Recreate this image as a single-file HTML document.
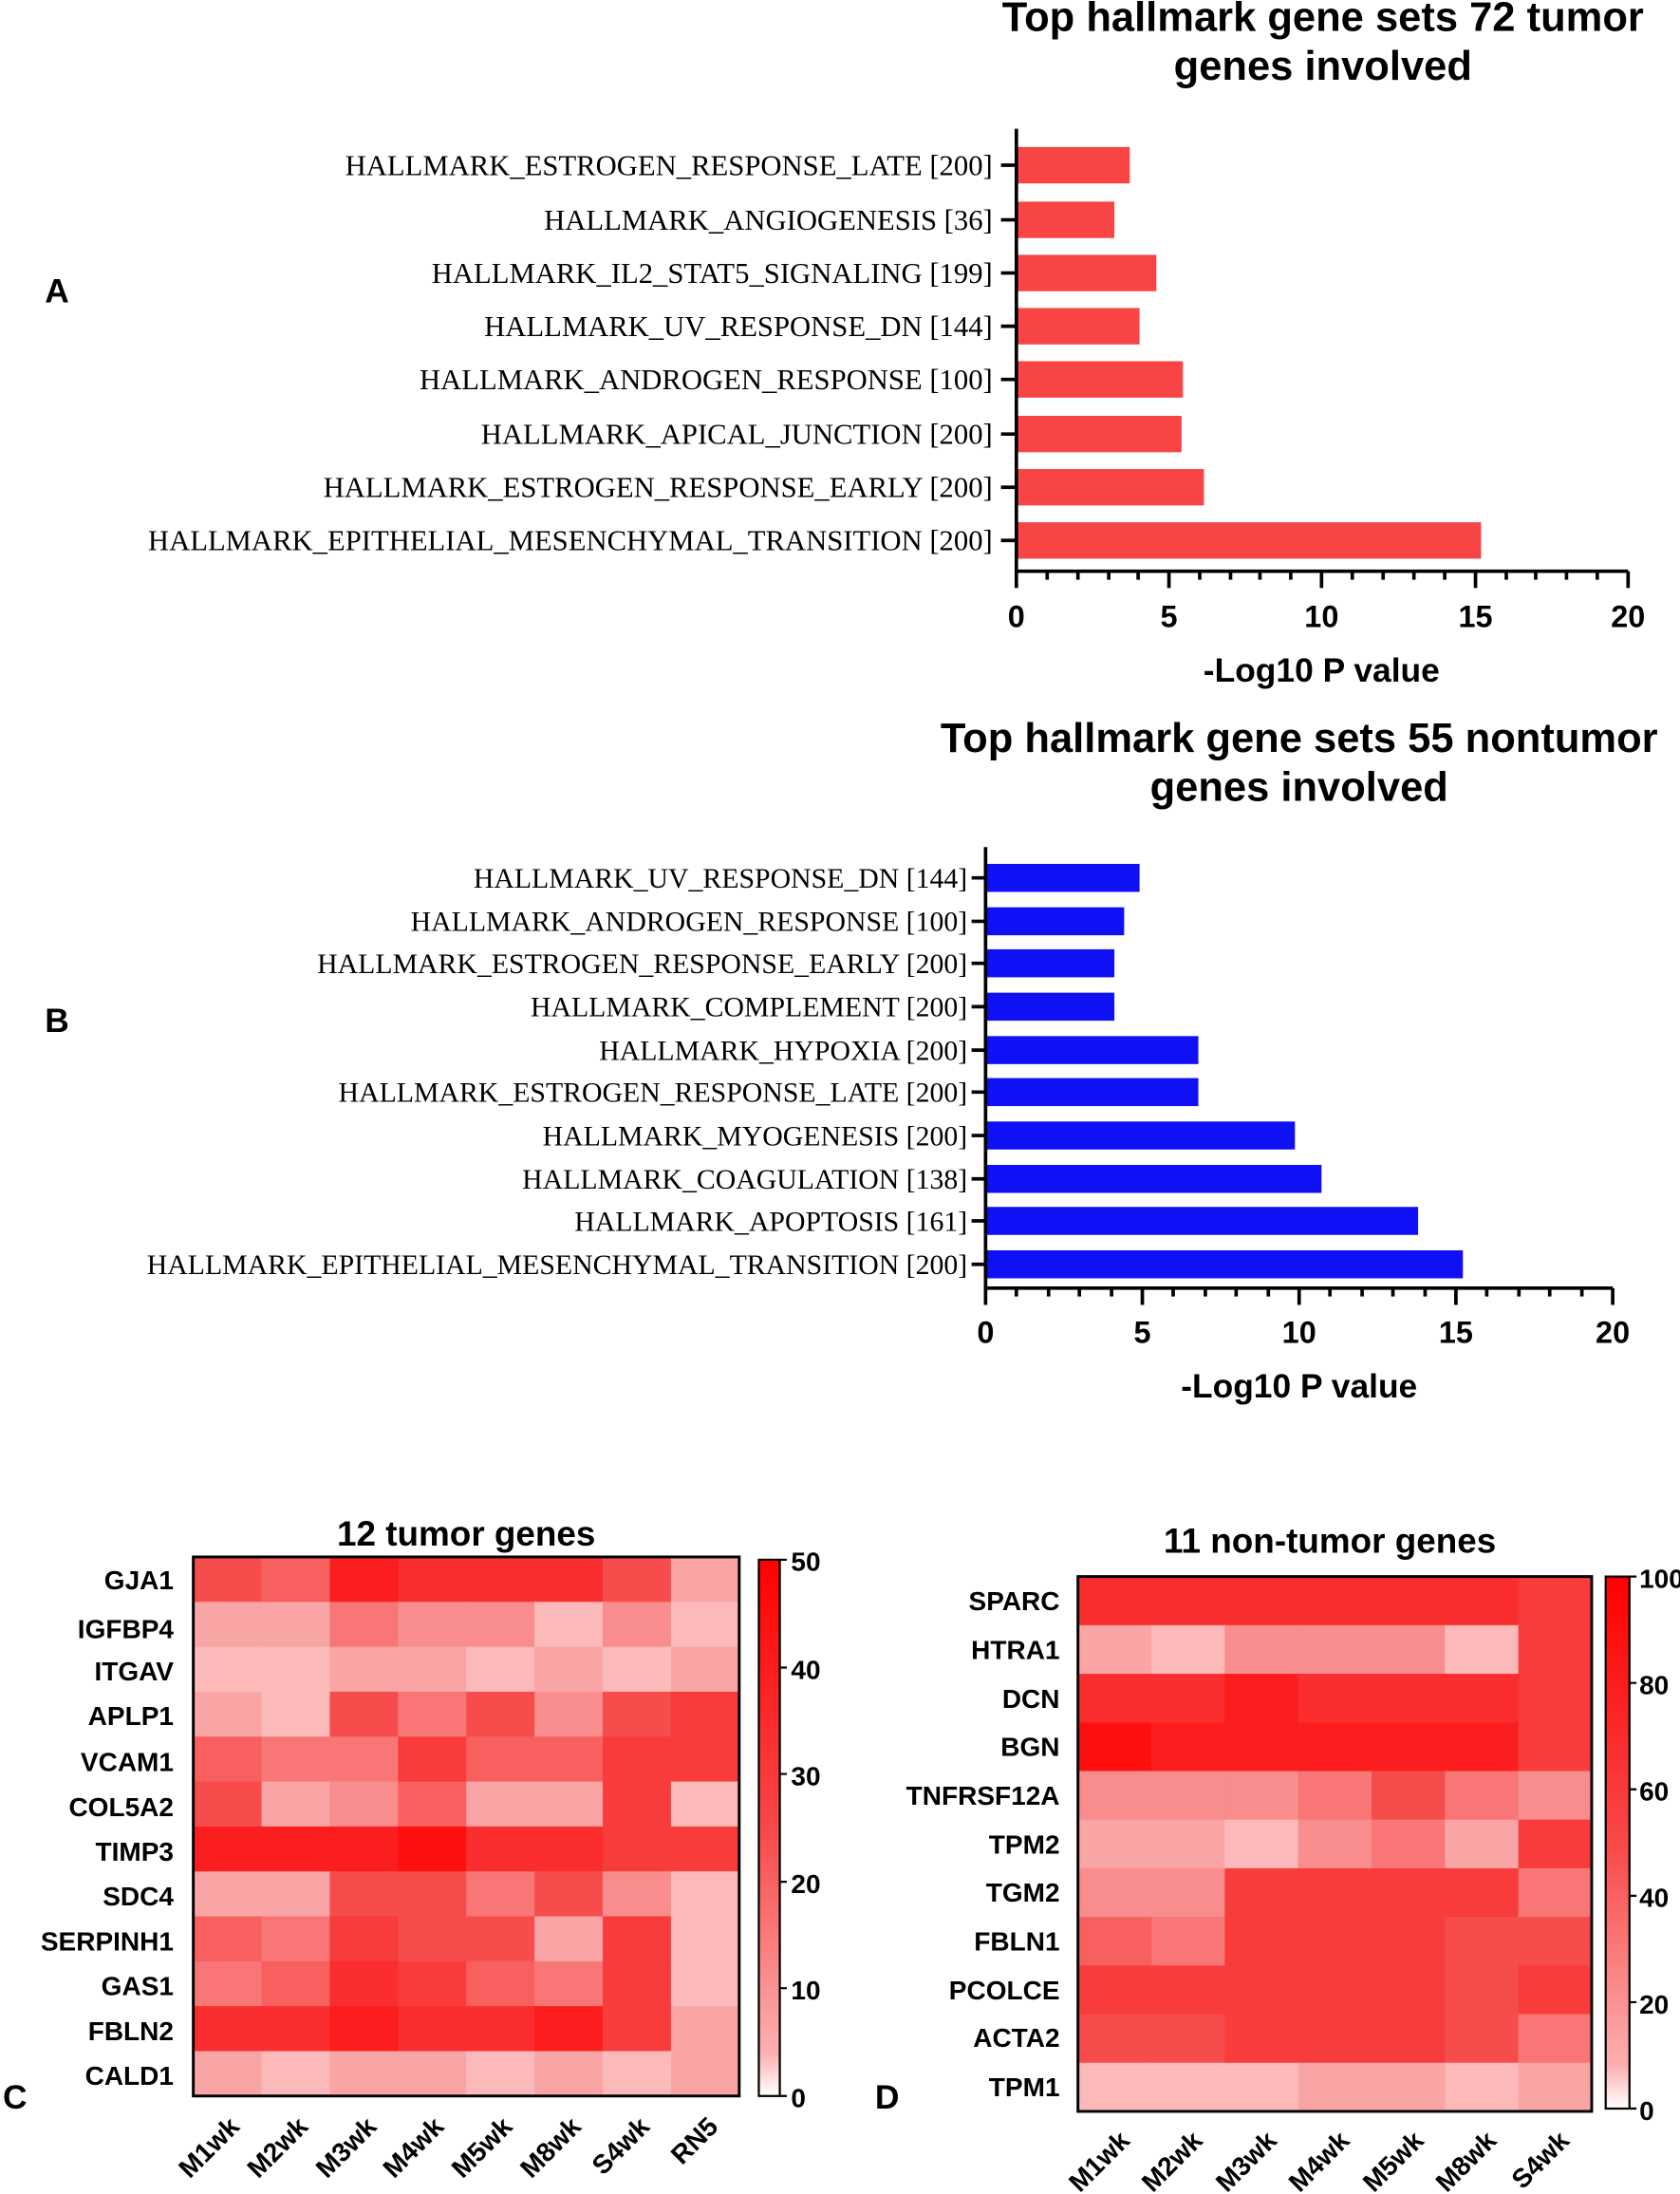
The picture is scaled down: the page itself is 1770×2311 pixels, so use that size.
<!DOCTYPE html>
<html><head><meta charset="utf-8"><style>
html,body{margin:0;padding:0;background:#fff}
svg{display:block}
.s{font-family:"Liberation Serif",serif;font-size:20.8px}
.s2{font-family:"Liberation Serif",serif;font-size:20.2px}
.b{font-family:"Liberation Sans",sans-serif;font-weight:bold}
</style></head><body>
<svg id="g" width="1770" height="2311" viewBox="0 0 1200 1567" xmlns="http://www.w3.org/2000/svg">
<rect width="1200" height="1567" fill="#fff"/>
<g class="b" font-size="29.5" text-anchor="middle">
<text x="945" y="22">Top hallmark gene sets 72 tumor</text>
<text x="945" y="57">genes involved</text>
<text x="928" y="537">Top hallmark gene sets 55 nontumor</text>
<text x="928" y="572">genes involved</text>
</g>
<g class="b" font-size="24"><text x="32" y="216">A</text><text x="32" y="737">B</text><text x="2" y="1506">C</text><text x="625" y="1506">D</text></g>
<g fill="#f84444">
<rect x="726" y="105" width="81" height="26"/><rect x="726" y="144" width="70" height="26"/>
<rect x="726" y="182" width="100" height="26"/><rect x="726" y="220" width="88" height="26"/>
<rect x="726" y="258" width="119" height="26"/><rect x="726" y="297" width="118" height="26"/>
<rect x="726" y="335" width="134" height="26"/><rect x="726" y="373" width="332" height="26"/>
</g>
<g stroke="#000" stroke-width="2.5" fill="none">
<path d="M726 92V408H1163"/>
<path d="M715 118H726M715 157H726M715 195H726M715 233H726M715 271H726M715 310H726M715 348H726M715 386H726"/>
<path d="M726 408V420M835 408V420M944 408V420M1054 408V420M1163 408V420M748 408V414M770 408V414M792 408V414M813 408V414M857 408V414M879 408V414M900 408V414M922 408V414M966 408V414M988 408V414M1010 408V414M1032 408V414M1076 408V414M1097 408V414M1119 408V414M1141 408V414"/>
</g>
<g class="s" text-anchor="end">
<text x="709" y="125">HALLMARK_ESTROGEN_RESPONSE_LATE [200]</text>
<text x="709" y="164">HALLMARK_ANGIOGENESIS [36]</text>
<text x="709" y="202">HALLMARK_IL2_STAT5_SIGNALING [199]</text>
<text x="709" y="240">HALLMARK_UV_RESPONSE_DN [144]</text>
<text x="709" y="278">HALLMARK_ANDROGEN_RESPONSE [100]</text>
<text x="709" y="317">HALLMARK_APICAL_JUNCTION [200]</text>
<text x="709" y="355">HALLMARK_ESTROGEN_RESPONSE_EARLY [200]</text>
<text x="709" y="393">HALLMARK_EPITHELIAL_MESENCHYMAL_TRANSITION [200]</text>
</g>
<g class="b" font-size="22" text-anchor="middle">
<text x="726" y="448">0</text><text x="835" y="448">5</text><text x="944" y="448">10</text><text x="1054" y="448">15</text><text x="1163" y="448">20</text>
<text x="944" y="487" font-size="24">-Log10 P value</text>
</g>
<g fill="#1010f4">
<rect x="704" y="617" width="110" height="20"/><rect x="704" y="648" width="99" height="20"/>
<rect x="704" y="678" width="92" height="20"/><rect x="704" y="709" width="92" height="20"/>
<rect x="704" y="740" width="152" height="20"/><rect x="704" y="770" width="152" height="20"/>
<rect x="704" y="801" width="221" height="20"/><rect x="704" y="832" width="240" height="20"/>
<rect x="704" y="862" width="309" height="20"/><rect x="704" y="893" width="341" height="20"/>
</g>
<g stroke="#000" stroke-width="2.5" fill="none">
<path d="M704 605V920H1152"/>
<path d="M694 627H704M694 658H704M694 688H704M694 719H704M694 750H704M694 780H704M694 811H704M694 842H704M694 872H704M694 903H704"/>
<path d="M704 920V932M816 920V932M928 920V932M1040 920V932M1152 920V932M726 920V926M749 920V926M771 920V926M794 920V926M838 920V926M861 920V926M883 920V926M906 920V926M950 920V926M973 920V926M995 920V926M1018 920V926M1062 920V926M1085 920V926M1107 920V926M1130 920V926"/>
</g>
<g class="s2" text-anchor="end">
<text x="691" y="634">HALLMARK_UV_RESPONSE_DN [144]</text>
<text x="691" y="665">HALLMARK_ANDROGEN_RESPONSE [100]</text>
<text x="691" y="695">HALLMARK_ESTROGEN_RESPONSE_EARLY [200]</text>
<text x="691" y="726">HALLMARK_COMPLEMENT [200]</text>
<text x="691" y="757">HALLMARK_HYPOXIA [200]</text>
<text x="691" y="787">HALLMARK_ESTROGEN_RESPONSE_LATE [200]</text>
<text x="691" y="818">HALLMARK_MYOGENESIS [200]</text>
<text x="691" y="849">HALLMARK_COAGULATION [138]</text>
<text x="691" y="879">HALLMARK_APOPTOSIS [161]</text>
<text x="691" y="910">HALLMARK_EPITHELIAL_MESENCHYMAL_TRANSITION [200]</text>
</g>
<g class="b" font-size="22" text-anchor="middle">
<text x="704" y="959">0</text><text x="816" y="959">5</text><text x="928" y="959">10</text><text x="1040" y="959">15</text><text x="1152" y="959">20</text>
<text x="928" y="998" font-size="24">-Log10 P value</text>
</g>
<defs>
<linearGradient id="cb" x1="0" y1="1" x2="0" y2="0">
<stop offset="0" stop-color="#ffffff"/><stop offset="0.08" stop-color="#fcb0b0"/><stop offset="0.5" stop-color="#f84848"/><stop offset="1" stop-color="#ff0000"/>
</linearGradient>
</defs>
<g id="hc"></g><g id="hd"></g>
<rect x="138" y="1112" width="390" height="385" fill="none" stroke="#000" stroke-width="2"/>
<rect x="770" y="1126" width="367" height="382" fill="none" stroke="#000" stroke-width="2"/>
<rect x="542" y="1114" width="15" height="383" fill="url(#cb)" stroke="#000" stroke-width="1.5"/>
<rect x="1147" y="1126" width="17" height="380" fill="url(#cb)" stroke="#000" stroke-width="1.5"/>
<g stroke="#000" stroke-width="1.5">
<path d="M557 1114h5M557 1191h5M557 1267h5M557 1344h5M557 1420h5M557 1497h5"/>
<path d="M1164 1126h5M1164 1202h5M1164 1278h5M1164 1354h5M1164 1430h5M1164 1506h5"/>
</g>
<g class="b" font-size="19">
<text x="565" y="1122">50</text><text x="565" y="1199">40</text><text x="565" y="1275">30</text><text x="565" y="1352">20</text><text x="565" y="1428">10</text><text x="565" y="1505">0</text>
<text x="1171" y="1134">100</text><text x="1171" y="1210">80</text><text x="1171" y="1286">60</text><text x="1171" y="1362">40</text><text x="1171" y="1438">20</text><text x="1171" y="1514">0</text>
</g>
<g class="b" font-size="25" text-anchor="middle">
<text x="333" y="1104">12 tumor genes</text>
<text x="950" y="1109">11 non-tumor genes</text>
</g>
<g class="b" font-size="19" text-anchor="end">
<text x="124" y="1135">GJA1</text><text x="124" y="1170">IGFBP4</text><text x="124" y="1200">ITGAV</text><text x="124" y="1232">APLP1</text>
<text x="124" y="1265">VCAM1</text><text x="124" y="1297">COL5A2</text><text x="124" y="1329">TIMP3</text><text x="124" y="1361">SDC4</text>
<text x="124" y="1393">SERPINH1</text><text x="124" y="1425">GAS1</text><text x="124" y="1457">FBLN2</text><text x="124" y="1489">CALD1</text>
<text x="757" y="1150">SPARC</text><text x="757" y="1185">HTRA1</text><text x="757" y="1220">DCN</text><text x="757" y="1254">BGN</text>
<text x="757" y="1289">TNFRSF12A</text><text x="757" y="1324">TPM2</text><text x="757" y="1358">TGM2</text><text x="757" y="1393">FBLN1</text>
<text x="757" y="1428">PCOLCE</text><text x="757" y="1462">ACTA2</text><text x="757" y="1497">TPM1</text>
</g>
<g class="b" font-size="19" text-anchor="end">
<text transform="translate(172,1520) rotate(-45)">M1wk</text>
<text transform="translate(221,1520) rotate(-45)">M2wk</text>
<text transform="translate(270,1520) rotate(-45)">M3wk</text>
<text transform="translate(318,1520) rotate(-45)">M4wk</text>
<text transform="translate(367,1520) rotate(-45)">M5wk</text>
<text transform="translate(416,1520) rotate(-45)">M8wk</text>
<text transform="translate(465,1520) rotate(-45)">S4wk</text>
<text transform="translate(514,1520) rotate(-45)">RN5</text>
<text transform="translate(808,1530) rotate(-45)">M1wk</text>
<text transform="translate(860,1530) rotate(-45)">M2wk</text>
<text transform="translate(913,1530) rotate(-45)">M3wk</text>
<text transform="translate(965,1530) rotate(-45)">M4wk</text>
<text transform="translate(1018,1530) rotate(-45)">M5wk</text>
<text transform="translate(1070,1530) rotate(-45)">M8wk</text>
<text transform="translate(1122,1530) rotate(-45)">S4wk</text>
</g>
</svg>
<script>
var P=["#fdd0d0","#fcb9b9","#faa5a5","#f98c8c","#f87676","#f85f5f","#f74c4c","#f83c3c","#fa2e2e","#fc1e1e","#ff1010"];
var C=[[6,5,9,8,8,8,6,2],[2,2,4,3,3,1,3,1],[1,1,2,2,1,2,1,2],[2,1,6,4,6,3,6,7],[5,4,4,7,5,5,7,7],[6,2,3,5,2,2,7,1],[9,9,9,10,8,8,7,7],[2,2,6,6,4,6,3,1],[5,4,7,6,6,2,7,1],[4,5,8,7,5,4,7,1],[8,8,9,8,8,9,7,2],[2,1,2,2,1,2,1,2]];
var D=[[8,8,8,8,8,8,7],[2,1,3,3,3,1,7],[8,8,9,8,8,8,7],[10,9,9,9,9,9,7],[3,3,3,4,6,4,3],[2,2,1,3,4,2,7],[3,3,7,7,7,7,4],[5,4,7,7,7,6,6],[7,7,7,7,7,6,7],[6,6,7,7,7,6,4],[1,1,1,2,2,1,2]];
function draw(id,M,x0,y0,w,h){var g=document.getElementById(id),ns="http://www.w3.org/2000/svg";var cw=w/M[0].length,ch=h/M.length;
for(var r=0;r<M.length;r++)for(var c=0;c<M[r].length;c++){var e=document.createElementNS(ns,"rect");e.setAttribute("x",x0+c*cw);e.setAttribute("y",y0+r*ch);e.setAttribute("width",cw+0.6);e.setAttribute("height",ch+0.6);e.setAttribute("fill",P[M[r][c]]);g.appendChild(e);}}
draw("hc",C,138,1112,390,385);draw("hd",D,770,1126,367,382);
</script>
</body></html>
